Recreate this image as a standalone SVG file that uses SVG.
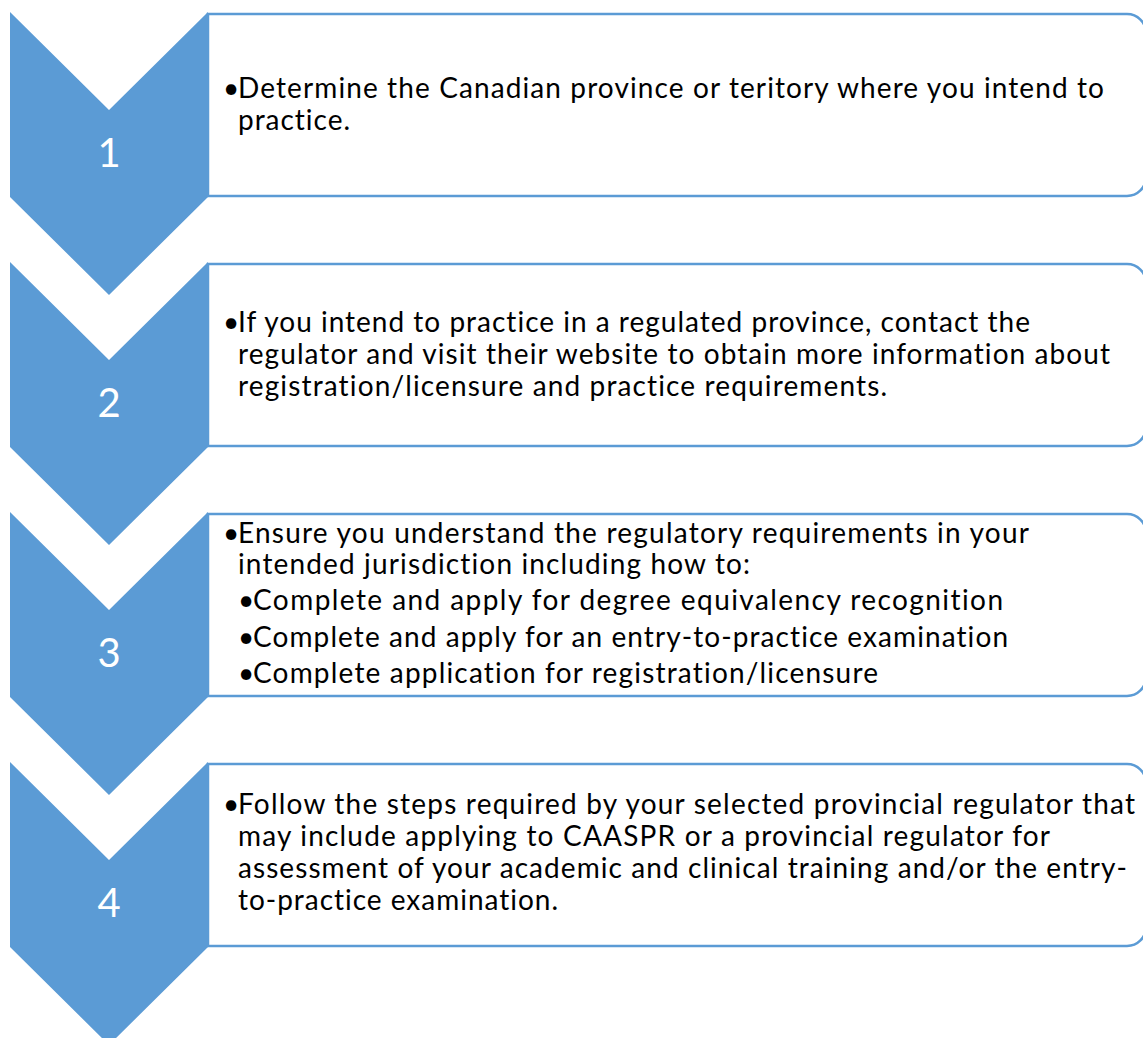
<svg xmlns="http://www.w3.org/2000/svg" width="1143" height="1038" viewBox="0 0 1143 1038">
<style>
.chev{fill:#5B9BD5;}
.box{fill:#FFFFFF;stroke:#5B9BD5;stroke-width:2.5;}
.num{font-family:Lato,"Noto Sans",sans-serif;font-size:40px;fill:#FFFFFF;text-anchor:middle;}
.t{font-family:Lato,"Noto Sans",sans-serif;font-size:28px;fill:#000000;font-variant-ligatures:none;font-feature-settings:"liga" 0;}
</style>
<defs>
<path id="chevShape" d="M10,0 L109,98 L208,0 L208,185 L109,283 L10,185 Z"/>
<path id="boxShape" d="M208,0 L1127,0 A19,19 0 0 1 1146,19 L1146,163 A19,19 0 0 1 1127,182 L208,182 Z"/>
</defs>
<rect width="1143" height="1038" fill="#FFFFFF"/>
<g id="connectors"></g>
<g id="step1">
<use href="#boxShape" class="box" transform="translate(0,14)"/>
<use href="#chevShape" class="chev" transform="translate(0,12)"/>
<text class="num" x="109" y="167">1</text>
<text class="t" x="223" y="98">•</text>
<text class="t" x="238" y="98" textLength="866" lengthAdjust="spacing">Determine the Canadian province or teritory where you intend to</text>
<text class="t" x="238" y="130" textLength="112" lengthAdjust="spacing">practice.</text>
</g>
<g id="step2">
<use href="#boxShape" class="box" transform="translate(0,264)"/>
<use href="#chevShape" class="chev" transform="translate(0,262)"/>
<text class="num" x="109" y="417">2</text>
<text class="t" x="223" y="332">•</text>
<text class="t" x="238" y="332" textLength="792" lengthAdjust="spacing">If you intend to practice in a regulated province, contact the</text>
<text class="t" x="238" y="364" textLength="872" lengthAdjust="spacing">regulator and visit their website to obtain more information about</text>
<text class="t" x="238" y="396" textLength="649" lengthAdjust="spacing">registration/licensure and practice requirements.</text>
</g>
<g id="step3">
<use href="#boxShape" class="box" transform="translate(0,514)"/>
<use href="#chevShape" class="chev" transform="translate(0,512)"/>
<text class="num" x="109" y="667">3</text>
<text class="t" x="223" y="543">•</text>
<text class="t" x="238" y="543" textLength="791" lengthAdjust="spacing">Ensure you understand the regulatory requirements in your</text>
<text class="t" x="238" y="574" textLength="512" lengthAdjust="spacing">intended jurisdiction including how to:</text>
<text class="t" x="238" y="610">•</text>
<text class="t" x="253" y="610" textLength="750" lengthAdjust="spacing">Complete and apply for degree equivalency recognition</text>
<text class="t" x="238" y="647">•</text>
<text class="t" x="253" y="647" textLength="755" lengthAdjust="spacing">Complete and apply for an entry-to-practice examination</text>
<text class="t" x="238" y="683">•</text>
<text class="t" x="253" y="683" textLength="625" lengthAdjust="spacing">Complete application for registration/licensure</text>
</g>
<g id="step4">
<use href="#boxShape" class="box" transform="translate(0,764)"/>
<use href="#chevShape" class="chev" transform="translate(0,762)"/>
<text class="num" x="109" y="917">4</text>
<text class="t" x="223" y="814">•</text>
<text class="t" x="238" y="814" textLength="897" lengthAdjust="spacing">Follow the steps required by your selected provincial regulator that</text>
<text class="t" x="238" y="846" textLength="812" lengthAdjust="spacing">may include applying to CAASPR or a provincial regulator for</text>
<text class="t" x="238" y="878" textLength="889" lengthAdjust="spacing">assessment of your academic and clinical training and/or the entry-</text>
<text class="t" x="238" y="910" textLength="320" lengthAdjust="spacing">to-practice examination.</text>
</g>
</svg>
